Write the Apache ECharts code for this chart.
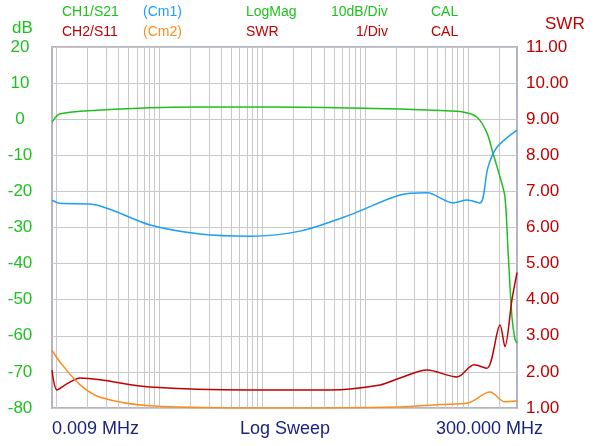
<!DOCTYPE html>
<html><head><meta charset="utf-8">
<script src="https://cdn.jsdelivr.net/npm/echarts@6/dist/echarts.min.js"></script>
<style>html,body{margin:0;background:#fff}#c{width:600px;height:446px}</style>
</head><body><div id="c"></div>
<script>
// frequencies in MHz
var s21Freq = [0.009, 0.0101, 0.0108, 0.0169, 0.081, 0.248, 0.759, 2.33, 7.13, 21.8, 53.5, 89.5, 122, 153, 175, 205, 229, 245, 268, 287, 300];
var s21Db   = [-0.8, 1.0, 1.5, 2.2, 3.2, 3.4, 3.4, 3.3, 3.1, 2.8, 2.4, 2.0, 0.6, -3.8, -9.4, -16, -21.5, -36, -54.8, -61, -62];
var cm1Freq = [0.009, 0.0108, 0.0211, 0.081, 0.248, 0.759, 2.33, 7.13, 21.8, 40, 71.6, 98, 131, 157, 192, 300];
var cm1Db   = [-22.4, -23.3, -23.5, -29.3, -31.8, -32.4, -31, -26.5, -21, -20.4, -23.2, -22.4, -23.2, -13.2, -7.7, -3];
var s11Freq = [0.009, 0.0101, 0.0121, 0.0169, 0.0264, 0.081, 0.759, 4.55, 14.0, 21.8, 40, 78.3, 114.6, 153, 205, 229, 268, 300];
var s11Swr  = [2.05, 1.5, 1.64, 1.83, 1.78, 1.58, 1.5, 1.5, 1.64, 1.83, 2.05, 1.86, 2.2, 2.1, 3.3, 2.7, 4.0, 4.75];
var cm2Freq = [0.009, 0.0108, 0.0169, 0.0264, 0.081, 0.759, 21.8, 53.5, 98, 164, 229, 300];
var cm2Swr  = [2.6, 2.27, 1.64, 1.3, 1.06, 1.0, 1.03, 1.1, 1.13, 1.44, 1.17, 1.2];

var fMin = 0.009, fMax = 300;
var green = '#1ec01e', blue = '#1e9ff0', orange = '#ff8c1a', red = '#c00000';
function pts(f, v) { return f.map(function (x, i) { return [Math.log10(x), v[i]]; }); }

// log grid lines (1..9 per decade)
var vLines = [];
for (var d = -3; d <= 3; d++) for (var k = 1; k <= 9; k++) {
  var f = k * Math.pow(10, d);
  if (f > fMin && f < fMax) vLines.push({ xAxis: Math.log10(f) });
}

var chart = echarts.init(document.getElementById('c'));
var lbl = function (t, x, y, c, anchor) {
  return { type: 'text', left: x, top: y, style: { text: t, fill: c, font: '14px Arial', textAlign: anchor || 'left' } };
};
chart.setOption({
  animation: false,
  backgroundColor: '#fff',
  grid: { left: 52, right: 83, top: 47, bottom: 38, show: true, borderColor: '#b4b4c4', borderWidth: 2 },
  xAxis: { type: 'value', min: Math.log10(fMin), max: Math.log10(fMax),
    axisLine: { show: false }, axisTick: { show: false }, axisLabel: { show: false }, splitLine: { show: false } },
  yAxis: [
    { type: 'value', min: -80, max: 20, interval: 10, position: 'left',
      axisLine: { show: false }, axisTick: { show: false },
      axisLabel: { color: green, fontSize: 17, fontFamily: 'Arial', margin: 32, align: 'center' },
      splitLine: { lineStyle: { color: '#c8c8c8', width: 1 } } },
    { type: 'value', min: 1, max: 11, interval: 1, position: 'right',
      axisLine: { show: false }, axisTick: { show: false },
      axisLabel: { color: red, fontSize: 17, fontFamily: 'Arial', margin: 9,
        formatter: function (v) { return v.toFixed(2); } },
      splitLine: { show: false } }
  ],
  series: [
    { type: 'line', yAxisIndex: 0, data: pts(s21Freq, s21Db), smooth: 0.3, showSymbol: false,
      lineStyle: { color: green, width: 1.5 }, z: 4,
      markLine: { silent: true, symbol: 'none', label: { show: false },
        lineStyle: { color: '#c8c8c8', width: 1, type: 'solid' }, data: vLines, z: 1 } },
    { type: 'line', yAxisIndex: 0, data: pts(cm1Freq, cm1Db), smooth: 0.3, showSymbol: false,
      lineStyle: { color: blue, width: 1.5 }, z: 4 },
    { type: 'line', yAxisIndex: 1, data: pts(s11Freq, s11Swr), smooth: 0.3, showSymbol: false,
      lineStyle: { color: red, width: 1.5 }, z: 4 },
    { type: 'line', yAxisIndex: 1, data: pts(cm2Freq, cm2Swr), smooth: 0.3, showSymbol: false,
      lineStyle: { color: orange, width: 1.5 }, z: 4 }
  ],
  graphic: [
    lbl('CH1/S21', 62, 5, green), lbl('(Cm1)', 143, 5, blue), lbl('LogMag', 246, 5, green),
    lbl('10dB/Div', 331, 5, green), lbl('CAL', 431, 5, green),
    lbl('CH2/S11', 62, 25, red), lbl('(Cm2)', 143, 25, orange), lbl('SWR', 246, 25, red),
    lbl('1/Div', 356, 25, red), lbl('CAL', 431, 25, red),
    { type: 'text', left: 12, top: 20, style: { text: 'dB', fill: green, font: '17px Arial' } },
    { type: 'text', left: 545, top: 16, style: { text: 'SWR', fill: red, font: '17px Arial' } },
    { type: 'text', left: 52, top: 420, style: { text: '0.009 MHz', fill: '#1a237e', font: '18px Arial' } },
    { type: 'text', left: 240, top: 420, style: { text: 'Log Sweep', fill: '#1a237e', font: '18px Arial' } },
    { type: 'text', left: 436, top: 420, style: { text: '300.000 MHz', fill: '#1a237e', font: '18px Arial' } }
  ]
});
</script></body></html>
